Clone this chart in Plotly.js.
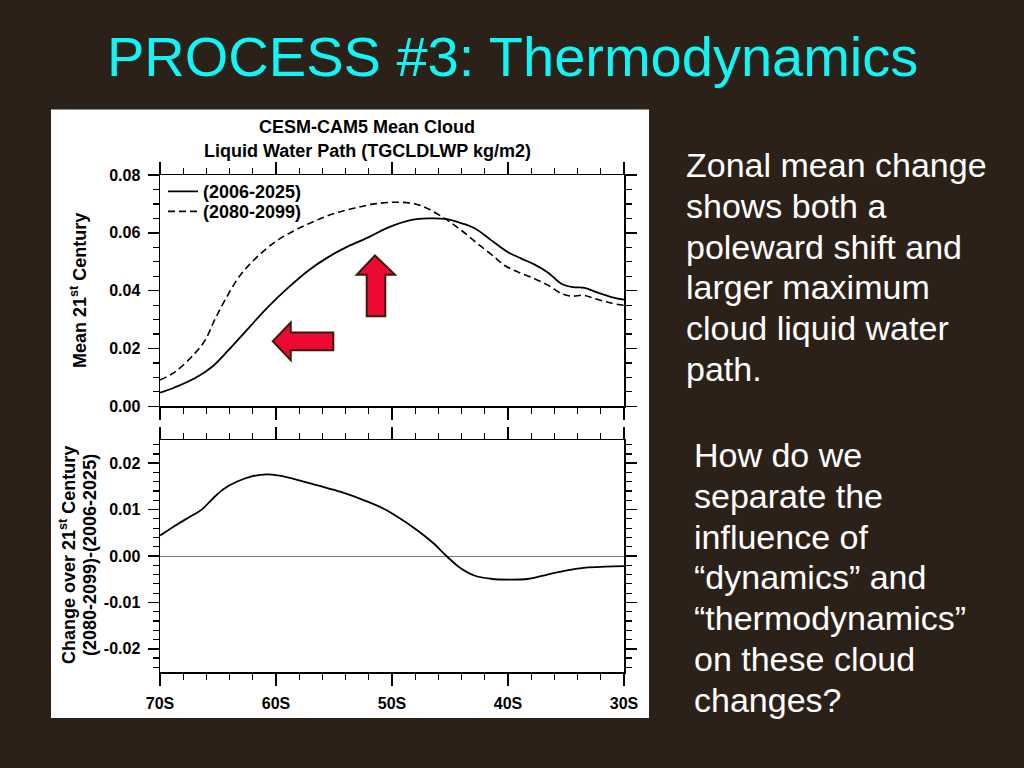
<!DOCTYPE html>
<html>
<head>
<meta charset="utf-8">
<script src="https://cdn.plot.ly/plotly-3.0.1.min.js"></script>
<style>
  html, body { margin: 0; padding: 0; background: #2c2119; }
  #chart { width: 1024px; height: 768px; }
</style>
</head>
<body>
<div id="chart"></div>
<script>
// ---------- data ----------
const latMean = [-70, -68.7, -67, -65.5, -64.1, -62.4, -60.7, -58.9, -57.2, -55.5, -53.8, -52.0, -50.3, -48.3, -46.9, -45.4, -44.0, -42.8, -41.4, -40.0, -38.8, -37.7, -36.5, -35.4, -34.4, -33.4, -32.2, -31.1, -30];
const mean2006 = [0.0047, 0.0066, 0.0097, 0.0137, 0.0194, 0.0269, 0.0343, 0.0412, 0.0470, 0.0516, 0.0553, 0.0585, 0.0619, 0.0645, 0.0650, 0.0648, 0.0633, 0.0614, 0.0573, 0.0533, 0.0510, 0.0490, 0.0461, 0.0424, 0.0412, 0.0410, 0.0392, 0.0378, 0.0369];

const latMean2 = [-70, -68.7, -67, -66.1, -65.3, -64.4, -63.2, -61.8, -60.1, -58.4, -56.6, -54.9, -53.2, -51.5, -49.7, -48.0, -46.9, -45.4, -44.0, -42.6, -41.1, -40.3, -39.1, -37.7, -36.5, -35.4, -34.5, -33.5, -32.5, -31.1, -30];
const mean2080 = [0.0091, 0.0119, 0.0183, 0.0229, 0.0298, 0.0367, 0.0447, 0.0510, 0.0568, 0.0608, 0.0642, 0.0668, 0.0686, 0.0700, 0.0706, 0.0700, 0.0683, 0.0648, 0.0608, 0.0562, 0.0514, 0.0487, 0.0464, 0.0441, 0.0418, 0.0390, 0.0381, 0.0384, 0.0372, 0.0357, 0.0349];

const latDiff = [-70, -68.9, -67.6, -66.4, -65.6, -64.6, -63.3, -62, -60.8, -59.7, -58, -56.4, -54.4, -52.4, -50.8, -49.5, -47.8, -46.5, -45.3, -44.2, -42.9, -41.5, -39.9, -38.2, -36.6, -34.9, -33.3, -31.6, -30];
const diffChange = [0.0044, 0.0062, 0.0082, 0.0100, 0.0120, 0.0143, 0.0161, 0.0172, 0.0176, 0.0173, 0.0163, 0.0152, 0.0138, 0.0120, 0.0103, 0.0084, 0.0055, 0.0029, 0.0000, -0.0024, -0.0042, -0.0049, -0.0051, -0.0049, -0.0040, -0.0031, -0.0025, -0.0023, -0.0022];

const seriesNames = ['(2006-2025)', '(2080-2099)'];
const xTickVals = [-70, -60, -50, -40, -30];
const xTickText = ['70S', '60S', '50S', '40S', '30S'];
const yTopVals = [0, 0.02, 0.04, 0.06, 0.08];
const yTopText = ['0.00', '0.02', '0.04', '0.06', '0.08'];
const yBotVals = [-0.02, -0.01, 0, 0.01, 0.02];
const yBotText = ['-0.02', '-0.01', '0.00', '0.01', '0.02'];

const slideTitle = 'PROCESS #3: Thermodynamics';
const chartTitle = ['CESM-CAM5 Mean Cloud', 'Liquid Water Path (TGCLDLWP kg/m2)'];
const noteA = ['Zonal mean change', 'shows both a', 'poleward shift and', 'larger maximum', 'cloud liquid water', 'path.'];
const noteB = ['How do we', 'separate the', 'influence of', '\u201cdynamics\u201d and', '\u201cthermodynamics\u201d', 'on these cloud', 'changes?'];

// arrow outlines (lat, value) – decorations
const leftArrow = [[-60.28, 0.02252], [-58.73, 0.02897], [-58.73, 0.02552], [-55.06, 0.02552], [-55.06, 0.01941], [-58.73, 0.01941], [-58.73, 0.01597]];
const upArrow = [[-51.47, 0.05217], [-49.74, 0.04552], [-50.58, 0.04552], [-50.58, 0.03114], [-52.18, 0.03114], [-52.18, 0.04552], [-53.04, 0.04552]];

// ---------- layout helpers ----------
const W = 1024, H = 768;
const M = { l: 160, r: 400, t: 175, b: 96 };
const PW = W - M.l - M.r, PH = H - M.t - M.b;
const px = x => (x - M.l) / PW;
const py = y => (H - M.b - y) / PH;

const FONT = 'Liberation Sans, Arial, Helvetica, sans-serif';
const boldFont = (size, color) => ({ family: FONT, size: size, color: color || '#000', weight: 700 });

const pathOf = pts => 'M ' + pts.map(p => p[0] + ',' + p[1]).join(' L ') + ' Z';

const traces = [
  { x: latMean, y: mean2006, name: seriesNames[0], type: 'scatter', mode: 'lines', legend: 'legend',
    line: { color: '#000', width: 1.8, shape: 'spline', smoothing: 1 }, xaxis: 'x', yaxis: 'y' },
  { x: latMean2, y: mean2080, name: seriesNames[1], type: 'scatter', mode: 'lines', legend: 'legend2',
    line: { color: '#000', width: 1.6, dash: '7px,4px', shape: 'spline', smoothing: 1 }, xaxis: 'x', yaxis: 'y' },
  { x: latDiff, y: diffChange, name: 'change', type: 'scatter', mode: 'lines', showlegend: false,
    line: { color: '#000', width: 1.8, shape: 'spline', smoothing: 1 }, xaxis: 'x2', yaxis: 'y2' }
];

const xCommon = {
  range: [-70, -30], showline: true, linecolor: '#000', linewidth: 1.5, mirror: 'ticks',
  ticks: 'outside', ticklen: 12, tickwidth: 1.5, tickcolor: '#000',
  tickmode: 'array', tickvals: xTickVals, ticktext: xTickText,
  showgrid: false, zeroline: false,
  minor: { ticks: 'outside', ticklen: 6, tickwidth: 1.2, tickcolor: '#000', tickmode: 'linear', tick0: -70, dtick: 2, showgrid: false },
  tickfont: boldFont(16), ticklabelstandoff: 4
};

const legendBase = (yc) => ({ x: px(163), xanchor: 'left', y: py(yc), yanchor: 'middle', bgcolor: 'rgba(0,0,0,0)',
  font: boldFont(18), itemwidth: 30, borderwidth: 0 });

const annotations = [
  { text: slideTitle, xref: 'paper', yref: 'paper', x: px(512), y: py(56),
    xanchor: 'center', yanchor: 'middle', showarrow: false,
    font: { family: FONT, size: 56, color: '#0ff6f6' } },
  { text: chartTitle[0], xref: 'paper', yref: 'paper', x: px(367), y: py(127),
    xanchor: 'center', yanchor: 'middle', showarrow: false, font: boldFont(18) },
  { text: chartTitle[1], xref: 'paper', yref: 'paper', x: px(367), y: py(151),
    xanchor: 'center', yanchor: 'middle', showarrow: false, font: boldFont(18) },
  { text: 'Mean 21<sup>st</sup> Century', xref: 'paper', yref: 'paper', x: px(78), y: py(291),
    xanchor: 'center', yanchor: 'middle', textangle: -90, showarrow: false, font: boldFont(18) },
  { text: 'Change over 21<sup>st</sup> Century', xref: 'paper', yref: 'paper', x: px(67), y: py(555),
    xanchor: 'center', yanchor: 'middle', textangle: -90, showarrow: false, font: boldFont(18) },
  { text: '(2080-2099)-(2006-2025)', xref: 'paper', yref: 'paper', x: px(90), y: py(555),
    xanchor: 'center', yanchor: 'middle', textangle: -90, showarrow: false, font: boldFont(18) }
];
noteA.forEach((t, i) => annotations.push({ text: t, xref: 'paper', yref: 'paper', x: px(684), y: py(165 + i * 40.8),
  xanchor: 'left', yanchor: 'middle', align: 'left', showarrow: false, font: { family: FONT, size: 34, color: '#ffffff' } }));
noteB.forEach((t, i) => annotations.push({ text: t, xref: 'paper', yref: 'paper', x: px(692), y: py(455 + i * 40.8),
  xanchor: 'left', yanchor: 'middle', align: 'left', showarrow: false, font: { family: FONT, size: 34, color: '#ffffff' } }));

const layout = {
  width: W, height: H, autosize: false,
  margin: M,
  paper_bgcolor: '#2c2119', plot_bgcolor: '#ffffff',
  showlegend: true,
  legend: legendBase(191.7),
  legend2: legendBase(211.7),
  xaxis: Object.assign({}, xCommon, { anchor: 'y', showticklabels: false }),
  xaxis2: Object.assign({}, xCommon, { anchor: 'y2', matches: 'x' }),
  yaxis: {
    domain: [py(406.3), 1], range: [0, 0.08], showline: true, linecolor: '#000', linewidth: 1.5, mirror: 'ticks',
    ticks: 'outside', ticklen: 11, tickwidth: 1.5, tickcolor: '#000',
    tickmode: 'array', tickvals: yTopVals, ticktext: yTopText, tickfont: boldFont(16), ticklabelstandoff: 4,
    showgrid: false, zeroline: false,
    minor: { ticks: 'outside', ticklen: 6, tickwidth: 1.2, tickcolor: '#000', tickmode: 'linear', tick0: 0, dtick: 0.005, showgrid: false }
  },
  yaxis2: {
    domain: [0, py(440)], range: [-0.025, 0.025], showline: true, linecolor: '#000', linewidth: 1.5, mirror: 'ticks',
    ticks: 'outside', ticklen: 11, tickwidth: 1.5, tickcolor: '#000',
    tickmode: 'array', tickvals: yBotVals, ticktext: yBotText, tickfont: boldFont(16), ticklabelstandoff: 4,
    showgrid: false, zeroline: true, zerolinecolor: '#7a7a7a', zerolinewidth: 1,
    minor: { ticks: 'outside', ticklen: 6, tickwidth: 1.2, tickcolor: '#000', tickmode: 'linear', tick0: 0, dtick: 0.002, showgrid: false }
  },
  shapes: [
    { type: 'rect', xref: 'paper', yref: 'paper', x0: px(51), x1: px(649), y0: py(718), y1: py(109.5),
      fillcolor: '#ffffff', line: { width: 0 }, layer: 'below' },
    { type: 'path', xref: 'x', yref: 'y', path: pathOf(leftArrow), fillcolor: '#ec0a32', line: { color: '#3a1a0e', width: 2 } },
    { type: 'path', xref: 'x', yref: 'y', path: pathOf(upArrow), fillcolor: '#ec0a32', line: { color: '#3a1a0e', width: 2 } }
  ],
  annotations: annotations
};

Plotly.newPlot('chart', traces, layout, { displayModeBar: false, staticPlot: true });
</script>
</body>
</html>
